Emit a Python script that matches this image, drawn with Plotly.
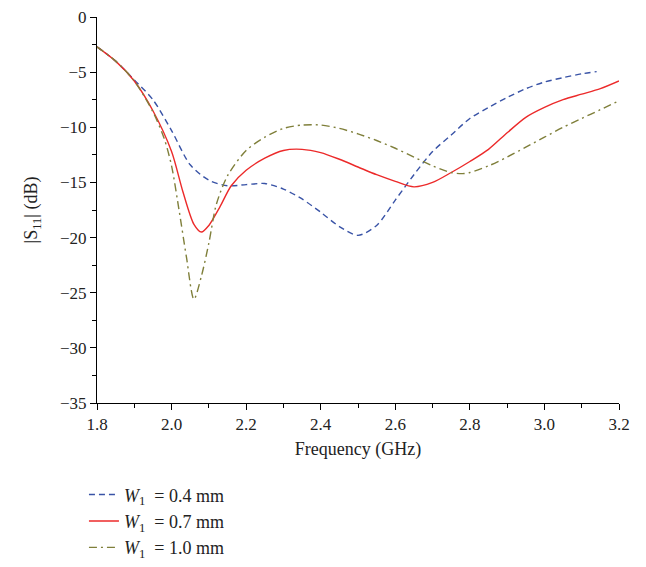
import plotly.graph_objects as go

# W1 = 0.4 mm
freq_04 = [1.80, 1.85, 1.90, 1.95, 2.00, 2.05, 2.10, 2.15, 2.20, 2.25, 2.30, 2.35, 2.40,
           2.45, 2.50, 2.55, 2.60, 2.65, 2.70, 2.75, 2.80, 2.85, 2.90, 2.95, 3.00, 3.05,
           3.10, 3.14]
s11_04 = [-2.7, -4.0, -5.7, -7.5, -10.3, -13.4, -14.8, -15.3, -15.2, -15.1, -15.6, -16.5,
          -17.7, -19.0, -19.8, -18.9, -16.6, -14.3, -12.2, -10.7, -9.2, -8.2, -7.3, -6.5,
          -5.9, -5.5, -5.15, -4.95]

# W1 = 0.7 mm
freq_07 = [1.80, 1.85, 1.90, 1.95, 2.00, 2.03, 2.06, 2.08, 2.10, 2.13, 2.16, 2.20, 2.25,
           2.30, 2.35, 2.40, 2.45, 2.50, 2.55, 2.60, 2.65, 2.70, 2.75, 2.80, 2.85, 2.90,
           2.95, 3.00, 3.05, 3.10, 3.15, 3.20]
s11_07 = [-2.7, -4.0, -5.8, -8.5, -12.2, -15.8, -18.8, -19.5, -18.9, -17.2, -15.3, -13.9,
          -12.8, -12.1, -12.0, -12.3, -12.9, -13.6, -14.3, -14.9, -15.4, -15.0, -14.1,
          -13.1, -12.0, -10.5, -9.1, -8.2, -7.5, -7.0, -6.5, -5.8]

# W1 = 1.0 mm
freq_10 = [1.80, 1.85, 1.90, 1.95, 1.98, 2.00, 2.02, 2.04, 2.06, 2.08, 2.10, 2.12, 2.15,
           2.20, 2.25, 2.30, 2.35, 2.40, 2.45, 2.50, 2.55, 2.60, 2.65, 2.70, 2.75, 2.78,
           2.80, 2.85, 2.90, 2.95, 3.00, 3.05, 3.10, 3.15, 3.20]
s11_10 = [-2.7, -4.0, -5.8, -8.6, -11.0, -13.5, -17.5, -21.8, -25.6, -23.5, -20.5, -17.0,
          -14.4, -12.1, -10.9, -10.1, -9.8, -9.8, -10.1, -10.6, -11.2, -11.9, -12.7, -13.5,
          -14.1, -14.2, -14.1, -13.5, -12.7, -11.8, -10.9, -10.0, -9.2, -8.4, -7.6]

series_names = ["<i>W</i><sub>1</sub>\u00a0\u00a0=\u00a00.4\u00a0mm",
                "<i>W</i><sub>1</sub>\u00a0\u00a0=\u00a00.7\u00a0mm",
                "<i>W</i><sub>1</sub>\u00a0\u00a0=\u00a01.0\u00a0mm"]

fig = go.Figure()
fig.add_trace(go.Scatter(x=freq_04, y=s11_04, mode="lines", name=series_names[0],
                         line=dict(color="#3953a6", width=1.4, dash="6px,4px",
                                   shape="spline", smoothing=0.8)))
fig.add_trace(go.Scatter(x=freq_07, y=s11_07, mode="lines", name=series_names[1],
                         line=dict(color="#ec2a2a", width=1.4,
                                   shape="spline", smoothing=0.8)))
fig.add_trace(go.Scatter(x=freq_10, y=s11_10, mode="lines", name=series_names[2],
                         line=dict(color="#7f7f3a", width=1.4, dash="8px,4px,2px,4px",
                                   shape="spline", smoothing=0.8)))

font = "Liberation Serif, Times New Roman, serif"
fig.update_layout(
    width=638, height=559,
    margin=dict(l=89, r=27, t=9, b=164, autoexpand=False),
    paper_bgcolor="white", plot_bgcolor="white",
    font=dict(family=font, size=17, color="#222"),
    showlegend=True,
    legend=dict(x=-0.025, y=-0.19, xanchor="left", yanchor="top",
                font=dict(family=font, size=18, color="#222"),
                tracegroupgap=0, itemwidth=30, bgcolor="rgba(0,0,0,0)"),
    xaxis=dict(range=[1.8, 3.2], dtick=0.2, tick0=1.8, tickformat=".1f",
               automargin=False, ticklabeloverflow="allow",
               showline=True, linecolor="black", linewidth=1,
               ticks="outside", ticklen=6, tickcolor="black",
               tickfont=dict(size=17),
               minor=dict(dtick=0.1, ticks="outside", ticklen=4, tickcolor="black"),
               showgrid=False, zeroline=False,
               title=dict(text="Frequency (GHz)", standoff=8, font=dict(size=18))),
    yaxis=dict(range=[-35, 0], dtick=5, tick0=0,
               automargin=False, ticklabeloverflow="allow",
               showline=True, linecolor="black", linewidth=1,
               ticks="outside", ticklen=6, tickcolor="black",
               tickfont=dict(size=17),
               minor=dict(dtick=2.5, ticks="outside", ticklen=4, tickcolor="black"),
               showgrid=False, zeroline=False,
               title=dict(text="|S<sub>11</sub>| (dB)", standoff=17, font=dict(size=18))),
)

fig.write_html("out.html")
